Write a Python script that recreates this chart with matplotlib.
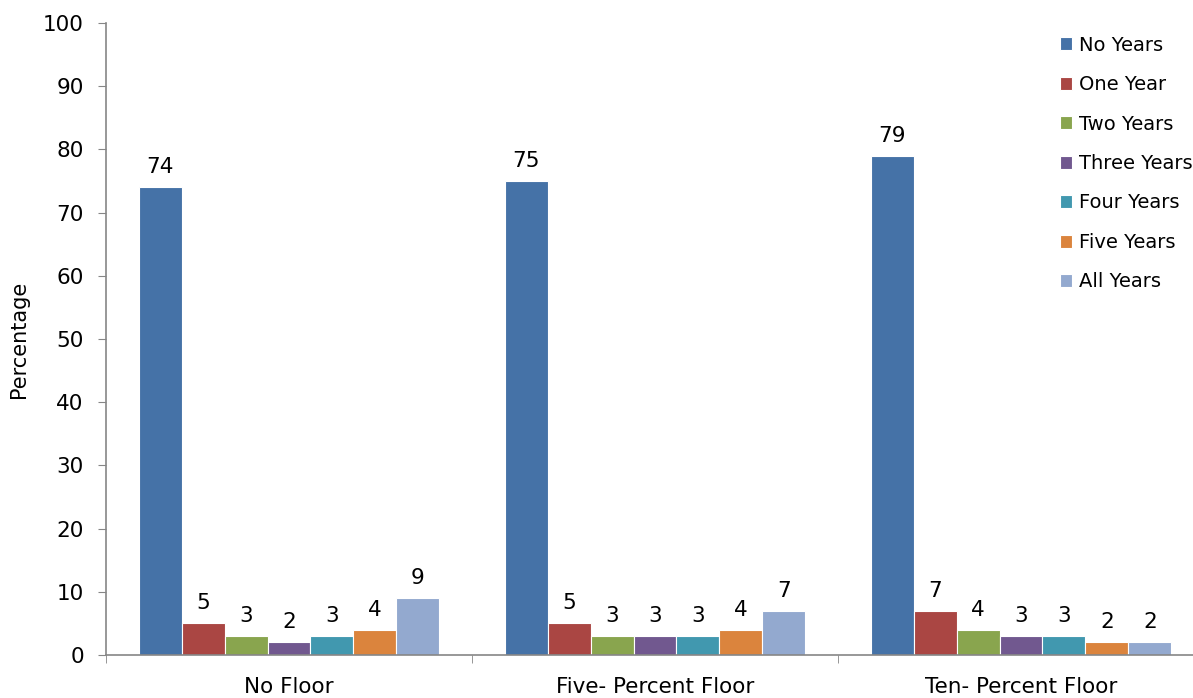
import numpy as np
import matplotlib
matplotlib.use("Agg")
import matplotlib.pyplot as plt

# =========================
# DATA
# =========================
CATEGORIES = ["No Floor", "Five- Percent Floor", "Ten- Percent Floor"]
SERIES = ["No Years", "One Year", "Two Years", "Three Years",
          "Four Years", "Five Years", "All Years"]
VALUES = [
    [74, 75, 79],   # No Years
    [5, 5, 7],      # One Year
    [3, 3, 4],      # Two Years
    [2, 3, 3],      # Three Years
    [3, 3, 3],      # Four Years
    [4, 4, 2],      # Five Years
    [9, 7, 2],      # All Years
]
COLORS = ["#4572A7", "#AA4643", "#89A54E", "#71588F",
          "#4198AF", "#DB843D", "#93A9CF"]

plt.rcParams["font.family"] = ["DejaVu Sans"]

# =========================
# FIGURE
# =========================
FIG = plt.figure(figsize=(11.93, 6.98), dpi=100)
AX = FIG.add_axes([106 / 1193, 43 / 698, 1098 / 1193, 632 / 698])

N = len(SERIES)
GROUP_W = 0.822
BAR_W = GROUP_W / N
X = np.arange(len(CATEGORIES))

HANDLES = []
for I, (NAME, VALS, COL) in enumerate(zip(SERIES, VALUES, COLORS)):
    POS = X - GROUP_W / 2 + BAR_W * (I + 0.5)
    BARS = AX.bar(POS, VALS, width=BAR_W, color=COL, edgecolor="white",
                  linewidth=0.8, label=NAME)
    HANDLES.append(BARS)
    for P, V in zip(POS, VALS):
        AX.text(P, V + 1.6, str(V), ha="center", va="bottom", fontsize=15.5)

AX.set_xlim(-0.5, len(CATEGORIES) - 0.5)
AX.set_ylim(0, 100)
AX.set_yticks(np.arange(0, 101, 10))
AX.tick_params(axis="y", labelsize=15.5, length=6, color="#868686", pad=10)

AX.set_xticks(X)
AX.set_xticklabels(CATEGORIES, fontsize=15.5)
AX.set_xticks(np.arange(-0.5, len(CATEGORIES)), minor=True)
AX.tick_params(axis="x", which="major", length=0, pad=16)
AX.tick_params(axis="x", which="minor", length=6, color="#868686")

for S in ["top", "right"]:
    AX.spines[S].set_visible(False)
for S in ["left", "bottom"]:
    AX.spines[S].set_color("#868686")
    AX.spines[S].set_linewidth(1.2)

AX.set_ylabel("Percentage", fontsize=15, labelpad=10)

AX.legend(handles=HANDLES, loc="upper left",
          bbox_to_anchor=(1052 / 1193, 670 / 698),
          bbox_transform=FIG.transFigure, frameon=False,
          fontsize=14, handlelength=0.65, handleheight=0.65,
          handletextpad=0.35, labelspacing=1.05, borderaxespad=0)

FIG.savefig("out.png", dpi=100)
